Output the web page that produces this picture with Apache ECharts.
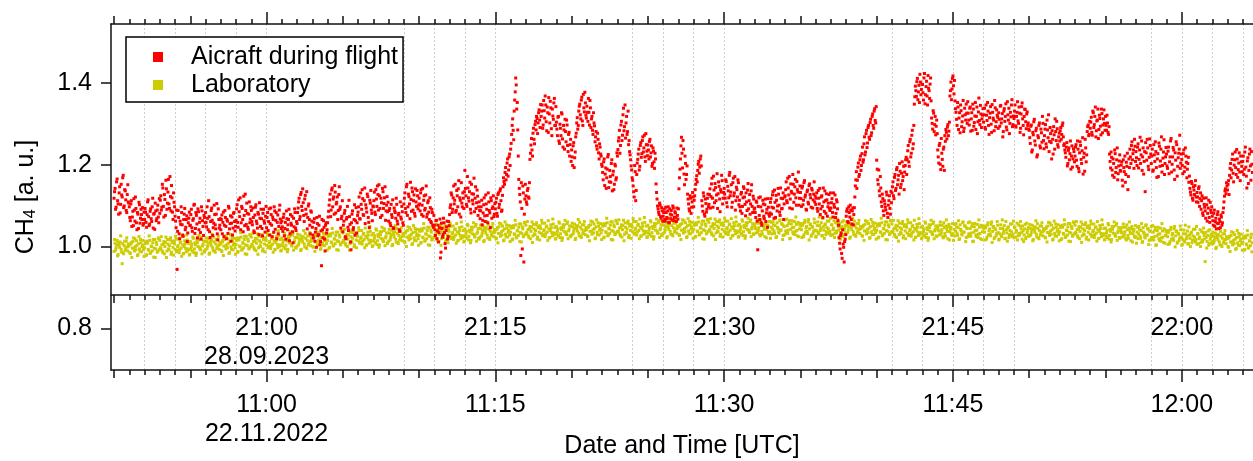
<!DOCTYPE html>
<html>

<head>
    <meta charset="utf-8">
    <title>CH4 Aircraft / Laboratory</title>
    <script src="https://cdn.jsdelivr.net/npm/echarts@6.0.0/dist/echarts.min.js"></script>
    <style>
        html, body { margin: 0; padding: 0; background: #fff; }
        .chart { width: 1253px; height: 461px; }
    </style>
</head>

<body>
    <div id="main" class="chart"></div>

    <script type="text/javascript">

        // x values are minutes after the full hour (10:00 lab run, 20:00 flight)
        var startMinute = 50;          // first sample hh:50:00
        var stepMinutes = 1 / 15;      // 4 s between values of one array
        var phaseB = 1 / 30;           // second array is shifted by 2 s
        var xMin = 49.8;
        var xMax = 124.67;

        var labelMinutes = [60, 75, 90, 105, 120];
        var gridMinutes = [52, 54, 56, 58, 60, 69, 71, 73, 75, 84, 86, 88, 90, 101, 103, 105, 107, 109, 118, 120, 122, 124];
        var yTicks = [0.8, 1.0, 1.2, 1.4];

        var flightDate = '28.09.2023';
        var labDate = '22.11.2022';

        // one row = one minute (15 values), hh:mm:00, :04, :08 ...
        var aircraftA = [
            1.118,1.142,1.096,1.165,1.104,1.131,1.082,1.152,1.121,1.174,1.099,1.136,1.088,1.127,1.109,
            1.097,1.063,1.112,1.072,1.051,1.089,1.121,1.058,1.083,1.044,1.102,1.069,1.078,1.095,1.056,
            1.066,1.084,1.047,1.109,1.073,1.055,1.092,1.061,1.118,1.079,1.042,1.087,1.068,1.101,1.058,
            1.081,1.124,1.096,1.143,1.072,1.115,1.162,1.091,1.133,1.104,1.171,1.087,1.119,1.066,1.108,
            1.074,1.046,0.944,1.088,1.031,1.062,1.097,1.053,1.025,1.079,1.041,1.066,1.012,1.058,1.084,
            1.052,1.091,1.037,1.068,1.103,1.044,1.076,1.021,1.085,1.059,1.034,1.097,1.063,1.027,1.071,
            1.083,1.048,1.069,1.112,1.036,1.061,1.094,1.027,1.057,1.078,1.043,1.105,1.016,1.066,1.052,
            1.041,1.077,1.059,1.024,1.088,1.049,1.066,1.032,1.094,1.056,1.013,1.072,1.045,1.083,1.038,
            1.064,1.102,1.047,1.085,1.119,1.058,1.093,1.036,1.076,1.128,1.054,1.081,1.042,1.109,1.067,
            1.088,1.053,1.071,1.034,1.096,1.062,1.045,1.079,1.107,1.049,1.068,1.026,1.091,1.057,1.074,
            1.046,1.083,1.061,1.028,1.094,1.052,1.072,1.035,1.087,1.064,1.019,1.077,1.049,1.101,1.058,
            1.062,1.037,1.079,1.044,1.018,1.068,1.053,1.091,1.031,1.057,1.074,1.009,1.048,1.083,1.039,
            1.056,1.094,1.118,1.073,1.132,1.088,1.107,1.061,1.125,1.079,1.043,1.099,1.066,1.031,1.084,
            1.047,1.021,1.068,1.035,0.998,1.056,1.029,1.074,1.012,0.953,1.041,1.063,1.018,1.052,1.033,
            1.058,1.086,1.114,1.073,1.138,1.097,1.121,1.149,1.082,1.108,1.066,1.127,1.091,1.045,1.074,
            1.036,1.062,1.088,1.019,1.071,1.047,1.113,1.054,0.992,1.079,1.041,1.066,1.028,1.095,1.058,
            1.084,1.121,1.067,1.103,1.139,1.078,1.112,1.056,1.094,1.128,1.071,1.046,1.106,1.089,1.063,
            1.097,1.133,1.078,1.116,1.148,1.089,1.124,1.071,1.107,1.142,1.093,1.119,1.064,1.101,1.085,
            1.062,1.093,1.051,1.078,1.114,1.044,1.087,1.069,1.103,1.055,1.081,1.037,1.072,1.098,1.058,
            1.104,1.131,1.083,1.152,1.097,1.122,1.068,1.115,1.143,1.089,1.126,1.074,1.109,1.137,1.092,
            1.118,1.087,1.139,1.101,1.074,1.124,1.093,1.148,1.079,1.112,1.066,1.095,1.058,1.083,1.047,
            1.052,1.027,1.064,1.038,1.011,1.046,0.972,1.057,1.023,1.069,1.034,0.996,1.048,1.018,1.061,
            1.078,1.102,1.126,1.091,1.148,1.113,1.084,1.137,1.097,1.161,1.119,1.072,1.106,1.131,1.093,
            1.186,1.124,1.098,1.143,1.111,1.157,1.082,1.129,1.104,1.167,1.118,1.093,1.138,1.076,1.109,
            1.068,1.097,1.053,1.082,1.119,1.061,1.104,1.076,1.131,1.088,1.046,1.112,1.093,1.124,1.079,
            1.092,1.118,1.074,1.131,1.103,1.141,1.086,1.125,1.168,1.152,1.193,1.176,1.214,1.187,1.226,
            1.238,1.274,1.312,1.261,1.358,1.412,1.336,1.285,1.164,1.127,0.978,1.093,1.148,0.962,1.116,
            1.124,1.103,1.142,1.118,1.213,1.248,1.236,1.277,1.262,1.298,1.285,1.313,1.302,1.334,1.291,
            1.318,1.346,1.297,1.332,1.368,1.305,1.341,1.279,1.324,1.355,1.288,1.336,1.311,1.362,1.296,
            1.304,1.271,1.318,1.252,1.289,1.327,1.263,1.296,1.238,1.281,1.309,1.247,1.274,1.221,1.262,
            1.236,1.198,1.254,1.217,1.268,1.302,1.287,1.331,1.348,1.312,1.365,1.296,1.339,1.377,1.321,
            1.343,1.306,1.328,1.357,1.291,1.318,1.274,1.302,1.256,1.281,1.238,1.262,1.214,1.243,1.221,
            1.196,1.163,1.214,1.177,1.142,1.189,1.225,1.158,1.171,1.203,1.136,1.184,1.152,1.197,1.168,
            1.221,1.258,1.284,1.247,1.306,1.272,1.338,1.293,1.265,1.318,1.281,1.249,1.232,1.212,1.187,
            1.162,1.134,1.198,1.112,1.176,1.213,1.238,1.196,1.254,1.227,1.268,1.241,1.219,1.276,1.233,
            1.248,1.214,1.262,1.229,1.196,1.241,1.207,1.228,1.153,1.116,1.092,1.078,1.101,1.069,1.087,
            1.074,1.091,1.062,1.083,1.068,1.097,1.058,1.079,1.088,1.065,1.094,1.071,1.082,1.061,1.076,
            1.092,1.168,1.214,1.267,1.192,1.238,1.151,1.203,1.176,1.128,1.104,1.087,1.118,1.096,1.132,
            1.097,1.124,1.152,1.173,1.186,1.208,1.194,1.221,1.112,1.086,1.123,1.074,1.105,1.091,1.128,
            1.103,1.141,1.122,1.167,1.096,1.138,1.154,1.112,1.178,1.129,1.147,1.085,1.133,1.161,1.118,
            1.142,1.118,1.159,1.097,1.136,1.174,1.124,1.151,1.108,1.167,1.131,1.089,1.145,1.121,1.156,
            1.113,1.087,1.132,1.098,1.146,1.121,1.075,1.109,1.138,1.092,1.127,1.104,1.151,1.083,1.116,
            1.094,1.071,1.108,0.992,1.119,1.066,1.097,1.052,1.113,1.074,1.102,1.061,1.091,1.117,1.079,
            1.082,1.117,1.096,1.134,1.069,1.108,1.125,1.087,1.142,1.101,1.076,1.118,1.093,1.131,1.104,
            1.124,1.158,1.107,1.143,1.171,1.116,1.135,1.092,1.152,1.128,1.164,1.101,1.139,1.182,1.118,
            1.132,1.098,1.147,1.113,1.161,1.126,1.089,1.138,1.104,1.153,1.119,1.142,1.094,1.128,1.109,
            1.103,1.131,1.086,1.118,1.142,1.092,1.124,1.071,1.109,1.136,1.081,1.114,1.097,1.127,1.088,
            1.094,1.117,1.072,1.103,1.126,1.081,1.109,1.063,1.021,0.994,1.033,0.971,1.006,0.962,1.018,
            1.074,1.092,1.058,1.083,1.101,1.066,1.087,1.053,1.095,1.148,1.183,1.162,1.204,1.176,1.221,
            1.198,1.243,1.212,1.268,1.231,1.284,1.253,1.296,1.262,1.311,1.278,1.324,1.289,1.337,1.302,
            1.211,1.163,1.187,1.124,1.143,1.098,1.117,1.076,1.104,1.089,1.126,1.071,1.112,1.093,1.135,
            1.131,1.158,1.117,1.176,1.142,1.193,1.163,1.128,1.184,1.152,1.207,1.171,1.139,1.198,1.218,
            1.213,1.247,1.196,1.262,1.228,1.284,1.251,1.348,1.392,1.367,1.411,1.378,1.352,1.402,1.384,
            1.396,1.358,1.423,1.371,1.404,1.346,1.387,1.362,1.412,1.314,1.287,1.326,1.298,1.273,1.309,
            1.236,1.204,1.252,1.188,1.228,1.196,1.243,1.271,1.286,1.263,1.298,1.282,1.368,1.402,1.385,
            1.417,1.373,1.356,1.328,1.296,1.341,1.314,1.278,1.332,1.305,1.357,1.289,1.322,1.348,1.301,
            1.326,1.297,1.341,1.312,1.284,1.336,1.303,1.352,1.318,1.276,1.329,1.308,1.345,1.291,1.321,
            1.304,1.338,1.287,1.321,1.352,1.296,1.315,1.342,1.279,1.328,1.309,1.357,1.293,1.334,1.316,
            1.327,1.294,1.345,1.312,1.268,1.331,1.306,1.349,1.285,1.322,1.338,1.301,1.317,1.359,1.298,
            1.313,1.346,1.292,1.328,1.307,1.341,1.279,1.324,1.351,1.296,1.318,1.335,1.288,1.329,1.302,
            1.284,1.252,1.297,1.236,1.273,1.311,1.248,1.289,1.224,1.266,1.302,1.241,1.278,1.318,1.259,
            1.271,1.298,1.243,1.285,1.322,1.257,1.276,1.214,1.262,1.293,1.238,1.281,1.306,1.249,1.268,
            1.258,1.291,1.274,1.302,1.247,1.236,1.218,1.254,1.203,1.241,1.227,1.189,1.246,1.214,1.232,
            1.221,1.249,1.196,1.238,1.183,1.256,1.213,1.234,1.177,1.228,1.262,1.207,1.281,1.297,1.274,
            1.289,1.316,1.272,1.327,1.298,1.341,1.283,1.309,1.264,1.321,1.294,1.336,1.278,1.312,1.301,
            1.318,1.284,1.302,1.274,1.226,1.192,1.218,1.174,1.203,1.236,1.181,1.212,1.163,1.197,1.224,
            1.184,1.207,1.148,1.193,1.221,1.176,1.196,1.139,1.214,1.238,1.203,1.256,1.227,1.191,1.245,
            1.232,1.198,1.251,1.213,1.267,1.224,1.186,1.241,1.208,1.134,1.229,1.262,1.196,1.218,1.247,
            1.203,1.238,1.187,1.224,1.256,1.193,1.214,1.171,1.245,1.209,1.268,1.198,1.231,1.176,1.219,
            1.226,1.191,1.243,1.207,1.258,1.182,1.219,1.236,1.164,1.211,1.249,1.196,1.228,1.272,1.204,
            1.213,1.178,1.236,1.194,1.221,1.168,1.203,1.157,1.142,1.126,1.154,1.113,1.138,1.149,1.121,
            1.132,1.108,1.146,1.117,1.091,1.124,1.076,1.103,1.087,1.119,1.062,1.094,1.071,1.108,1.083,
            1.074,1.052,1.089,1.061,1.043,1.078,1.056,1.067,1.046,1.072,1.058,1.094,1.123,1.141,1.156,
            1.138,1.161,1.174,1.203,1.187,1.226,1.158,1.212,1.193,1.237,1.169,1.204,1.182,1.221,1.196,
            1.208,1.176,1.231,1.194,1.143,1.217,1.186,1.238,1.162,1.201
        ];

        // hh:mm:02, :06, :10 ...
        var aircraftB = [
            1.134,1.091,1.158,1.112,1.079,1.146,1.103,1.126,1.168,1.095,1.139,1.114,1.083,1.151,1.106,
            1.071,1.104,1.049,1.086,1.117,1.062,1.093,1.041,1.079,1.108,1.057,1.091,1.066,1.052,1.084,
            1.093,1.059,1.078,1.114,1.051,1.086,1.068,1.097,1.045,1.081,1.106,1.063,1.089,1.072,1.117,
            1.113,1.089,1.152,1.098,1.127,1.076,1.141,1.106,1.164,1.093,1.122,1.149,1.084,1.131,1.097,
            1.062,1.089,1.037,1.071,1.019,1.054,1.083,1.028,1.066,1.093,1.047,1.075,1.033,1.069,1.051,
            1.078,1.046,1.064,1.101,1.032,1.083,1.055,1.092,1.041,1.069,1.018,1.087,1.049,1.076,1.058,
            1.059,1.097,1.041,1.073,1.022,1.088,1.064,1.046,1.101,1.053,1.079,1.031,1.092,1.045,1.068,
            1.066,1.031,1.084,1.052,1.071,1.019,1.062,1.098,1.043,1.075,1.057,1.028,1.081,1.061,1.049,
            1.092,1.059,1.114,1.073,1.041,1.098,1.066,1.123,1.051,1.088,1.106,1.047,1.079,1.058,1.097,
            1.061,1.094,1.038,1.077,1.102,1.056,1.083,1.029,1.069,1.091,1.044,1.081,1.063,1.035,1.098,
            1.071,1.039,1.092,1.056,1.078,1.024,1.066,1.097,1.042,1.083,1.059,1.031,1.089,1.067,1.044,
            1.048,1.071,1.026,1.059,1.087,1.041,1.066,1.014,1.078,1.052,1.036,1.069,1.092,1.045,1.061,
            1.083,1.109,1.066,1.127,1.098,1.141,1.076,1.116,1.091,1.134,1.071,1.104,1.052,1.087,1.062,
            1.028,1.059,1.013,1.044,1.071,1.026,1.052,1.004,1.038,1.066,1.021,1.047,0.989,1.058,1.041,
            1.072,1.101,1.128,1.089,1.143,1.116,1.079,1.133,1.104,1.121,1.088,1.146,1.097,1.068,1.112,
            1.052,1.081,1.024,1.067,1.098,1.039,1.073,1.011,1.058,1.087,1.046,1.102,1.063,1.033,1.076,
            1.097,1.068,1.131,1.091,1.117,1.076,1.143,1.102,1.084,1.122,1.059,1.113,1.137,1.081,1.099,
            1.112,1.084,1.139,1.098,1.127,1.151,1.093,1.118,1.076,1.134,1.105,1.146,1.087,1.122,1.108,
            1.088,1.057,1.103,1.071,1.046,1.094,1.083,1.118,1.062,1.077,1.041,1.109,1.067,1.085,1.052,
            1.118,1.093,1.146,1.076,1.128,1.104,1.157,1.086,1.134,1.112,1.081,1.141,1.098,1.124,1.101,
            1.104,1.131,1.078,1.142,1.113,1.089,1.126,1.072,1.107,1.084,1.119,1.061,1.091,1.052,1.076,
            1.041,1.063,1.019,1.052,1.034,1.067,0.986,1.044,1.029,1.058,1.007,1.039,1.062,1.024,1.051,
            1.095,1.131,1.083,1.119,1.104,1.152,1.088,1.124,1.141,1.079,1.113,1.156,1.097,1.118,1.134,
            1.142,1.103,1.171,1.119,1.134,1.091,1.152,1.113,1.128,1.085,1.146,1.107,1.123,1.097,1.088,
            1.087,1.113,1.064,1.102,1.075,1.126,1.091,1.058,1.109,1.082,1.119,1.069,1.097,1.073,1.105,
            1.108,1.081,1.127,1.095,1.136,1.112,1.089,1.146,1.159,1.181,1.163,1.204,1.172,1.219,1.198,
            1.252,1.296,1.284,1.331,1.378,1.395,1.352,1.221,1.142,1.109,1.156,0.994,1.131,1.079,1.152,
            1.109,1.137,1.121,1.156,1.228,1.264,1.221,1.289,1.251,1.306,1.318,1.276,1.327,1.309,1.347,
            1.331,1.289,1.357,1.314,1.346,1.283,1.327,1.364,1.302,1.339,1.271,1.319,1.351,1.296,1.342,
            1.287,1.316,1.258,1.299,1.271,1.324,1.243,1.285,1.311,1.256,1.297,1.232,1.279,1.249,1.208,
            1.219,1.246,1.193,1.231,1.277,1.315,1.296,1.343,1.322,1.358,1.307,1.372,1.329,1.351,1.314,
            1.328,1.362,1.297,1.339,1.312,1.284,1.327,1.295,1.268,1.246,1.277,1.229,1.251,1.226,1.201,
            1.181,1.207,1.149,1.192,1.168,1.219,1.144,1.186,1.157,1.212,1.175,1.139,1.201,1.163,1.229,
            1.237,1.266,1.228,1.297,1.259,1.322,1.283,1.346,1.302,1.274,1.331,1.259,1.224,1.197,1.168,
            1.148,1.121,1.183,1.137,1.204,1.226,1.187,1.247,1.218,1.259,1.231,1.272,1.208,1.249,1.222,
            1.236,1.257,1.219,1.246,1.203,1.233,1.191,1.214,1.132,1.099,1.084,1.106,1.073,1.095,1.062,
            1.083,1.066,1.096,1.071,1.087,1.059,1.092,1.068,1.077,1.099,1.063,1.085,1.072,1.094,1.067,
            1.141,1.189,1.246,1.228,1.259,1.177,1.221,1.164,1.197,1.116,1.092,1.124,1.081,1.109,1.121,
            1.113,1.139,1.164,1.158,1.201,1.179,1.214,1.197,1.099,1.131,1.079,1.116,1.084,1.118,1.097,
            1.127,1.094,1.153,1.118,1.172,1.107,1.144,1.126,1.093,1.158,1.116,1.139,1.174,1.104,1.132,
            1.128,1.163,1.107,1.147,1.119,1.181,1.133,1.096,1.156,1.124,1.171,1.112,1.139,1.163,1.102,
            1.097,1.128,1.081,1.119,1.142,1.103,1.131,1.088,1.154,1.112,1.079,1.136,1.098,1.123,1.091,
            1.083,1.111,1.062,1.098,1.076,1.121,1.058,1.087,1.104,1.068,1.116,1.082,1.047,1.096,1.074,
            1.108,1.079,1.126,1.094,1.138,1.071,1.113,1.099,1.128,1.084,1.143,1.092,1.117,1.066,1.121,
            1.139,1.112,1.167,1.126,1.094,1.153,1.131,1.176,1.108,1.146,1.119,1.159,1.133,1.101,1.148,
            1.117,1.143,1.102,1.156,1.121,1.091,1.134,1.108,1.149,1.127,1.096,1.138,1.114,1.158,1.123,
            1.118,1.093,1.137,1.104,1.078,1.121,1.098,1.143,1.086,1.112,1.129,1.074,1.106,1.093,1.131,
            1.107,1.083,1.131,1.096,1.071,1.114,1.092,1.052,1.008,1.027,0.983,1.041,0.998,1.012,1.029,
            1.086,1.061,1.097,1.072,1.089,1.055,1.094,1.078,1.121,1.163,1.142,1.194,1.171,1.212,1.186,
            1.227,1.206,1.251,1.224,1.276,1.242,1.291,1.267,1.303,1.271,1.318,1.296,1.331,1.308,1.342,
            1.189,1.152,1.136,1.171,1.109,1.128,1.087,1.112,1.096,1.133,1.081,1.101,1.124,1.079,1.107,
            1.146,1.124,1.169,1.137,1.188,1.151,1.174,1.203,1.144,1.179,1.161,1.196,1.182,1.212,1.176,
            1.234,1.207,1.256,1.219,1.272,1.239,1.296,1.366,1.381,1.403,1.359,1.394,1.421,1.371,1.397,
            1.376,1.412,1.349,1.391,1.368,1.418,1.381,1.397,1.356,1.301,1.332,1.281,1.318,1.294,1.276,
            1.219,1.247,1.201,1.264,1.213,1.238,1.186,1.257,1.279,1.292,1.271,1.304,1.381,1.359,1.411,
            1.393,1.406,1.337,1.311,1.352,1.286,1.327,1.346,1.293,1.319,1.281,1.338,1.309,1.326,1.354,
            1.309,1.338,1.282,1.327,1.348,1.294,1.319,1.286,1.341,1.305,1.363,1.298,1.324,1.312,1.337,
            1.322,1.291,1.346,1.308,1.331,1.274,1.326,1.299,1.347,1.314,1.283,1.339,1.305,1.321,1.289,
            1.311,1.343,1.302,1.325,1.281,1.337,1.318,1.292,1.354,1.309,1.276,1.328,1.346,1.293,1.319,
            1.331,1.295,1.318,1.354,1.301,1.326,1.289,1.342,1.312,1.273,1.336,1.305,1.324,1.296,1.287,
            1.266,1.294,1.231,1.279,1.305,1.258,1.283,1.219,1.271,1.296,1.246,1.287,1.255,1.301,1.239,
            1.287,1.251,1.309,1.266,1.232,1.291,1.254,1.283,1.226,1.273,1.312,1.259,1.288,1.243,1.277,
            1.283,1.262,1.296,1.268,1.251,1.229,1.243,1.197,1.235,1.212,1.258,1.221,1.194,1.239,1.207,
            1.243,1.211,1.258,1.191,1.229,1.247,1.203,1.266,1.218,1.184,1.241,1.224,1.293,1.271,1.306,
            1.304,1.279,1.331,1.291,1.318,1.268,1.307,1.336,1.286,1.313,1.273,1.325,1.297,1.334,1.284,
            1.296,1.321,1.279,1.293,1.208,1.231,1.187,1.214,1.169,1.227,1.193,1.241,1.178,1.209,1.186,
            1.199,1.162,1.212,1.183,1.157,1.206,1.228,1.171,1.193,1.219,1.247,1.212,1.236,1.262,1.208,
            1.217,1.243,1.192,1.236,1.203,1.258,1.219,1.177,1.232,1.254,1.211,1.241,1.188,1.263,1.226,
            1.221,1.184,1.249,1.208,1.232,1.169,1.227,1.253,1.196,1.238,1.182,1.216,1.261,1.203,1.242,
            1.197,1.233,1.178,1.219,1.264,1.201,1.242,1.187,1.229,1.256,1.172,1.217,1.238,1.191,1.226,
            1.198,1.227,1.183,1.241,1.206,1.189,1.218,1.172,1.133,1.159,1.118,1.146,1.127,1.161,1.109,
            1.121,1.142,1.098,1.131,1.112,1.082,1.118,1.096,1.069,1.102,1.081,1.113,1.059,1.089,1.097,
            1.063,1.081,1.049,1.069,1.057,1.085,1.044,1.061,1.077,1.052,1.083,1.109,1.136,1.129,1.148,
            1.152,1.127,1.191,1.168,1.213,1.179,1.199,1.231,1.176,1.214,1.188,1.229,1.161,1.207,1.183,
            1.221,1.189,1.243,1.172,1.209,1.154,1.226,1.197,1.232,1.181
        ];

        var labA = [
            0.988,1.008,0.997,1.015,0.980,1.004,1.011,0.993,0.958,0.985,1.002,0.991,1.013,0.999,1.006,
            1.005,0.983,1.010,0.996,1.021,0.989,1.000,1.014,0.978,1.007,0.994,1.017,0.987,1.003,0.992,
            0.997,1.011,0.980,1.008,0.991,1.015,0.985,1.000,1.009,0.974,1.017,0.994,1.005,0.988,1.019,
            1.015,0.995,1.004,0.985,1.012,1.000,1.023,0.989,1.006,0.992,1.016,0.981,1.009,0.998,1.013,
            0.993,1.018,0.990,1.002,0.985,1.009,0.996,1.024,0.982,1.000,1.007,0.987,1.016,0.994,0.979,
            1.012,1.000,0.989,1.020,0.994,1.004,0.984,1.009,1.016,0.998,0.992,1.023,1.001,1.013,0.987,
            0.992,1.012,1.001,1.019,0.984,1.008,1.015,0.997,1.023,0.989,1.006,0.995,1.017,1.003,1.010,
            1.010,0.988,1.015,1.001,1.026,0.994,1.005,1.019,0.983,1.012,0.999,1.022,0.992,1.008,0.997,
            1.005,1.019,0.988,1.016,0.999,1.023,0.993,1.008,1.017,0.982,1.025,1.002,1.013,0.996,1.027,
            1.023,1.003,1.012,0.993,1.020,1.008,1.031,0.997,1.014,1.000,1.024,0.989,1.017,1.006,1.021,
            1.003,1.028,1.000,1.012,0.995,1.019,1.006,1.034,0.992,1.010,1.017,0.997,1.026,1.004,0.989,
            1.021,1.009,0.998,1.029,1.003,1.013,0.993,1.018,1.025,1.007,1.001,1.032,1.010,1.022,0.996,
            1.001,1.021,1.010,1.028,0.993,1.017,1.024,1.006,1.032,0.998,1.015,1.004,1.026,1.012,1.019,
            1.020,0.998,1.025,1.011,1.036,1.004,1.015,1.029,0.993,1.022,1.009,1.032,1.002,1.018,1.007,
            1.015,1.029,0.998,1.026,1.009,1.033,1.003,1.018,1.027,0.992,1.035,1.012,1.023,1.006,1.037,
            1.033,1.013,1.022,1.003,1.030,1.018,1.041,1.007,1.024,1.010,1.034,0.999,1.027,1.016,1.031,
            1.014,1.039,1.011,1.023,1.006,1.030,1.017,1.045,1.003,1.021,1.028,1.008,1.037,1.015,1.000,
            1.032,1.020,1.009,1.040,1.014,1.024,1.004,1.029,1.036,1.018,1.012,1.043,1.021,1.033,1.007,
            1.013,1.033,1.022,1.040,1.005,1.029,1.036,1.018,1.044,1.010,1.027,1.016,1.038,1.024,1.031,
            1.032,1.010,1.037,1.023,1.048,1.016,1.027,1.041,1.005,1.034,1.021,1.044,1.014,1.030,1.019,
            1.027,1.041,1.010,1.038,1.021,1.045,1.015,1.030,1.039,1.004,1.047,1.024,1.035,1.018,1.049,
            1.045,1.025,1.034,1.015,1.042,1.030,1.053,1.019,1.036,1.022,1.046,1.011,1.039,1.028,1.043,
            1.025,1.050,1.022,1.034,1.017,1.041,1.028,1.056,1.014,1.032,1.039,1.019,1.048,1.026,1.011,
            1.043,1.031,1.020,1.051,1.025,1.035,1.015,1.040,1.047,1.029,1.023,1.054,1.032,1.044,1.018,
            1.023,1.043,1.032,1.050,1.015,1.039,1.046,1.028,1.054,1.020,1.037,1.026,1.048,1.034,1.041,
            1.041,1.019,1.046,1.032,1.057,1.025,1.036,1.050,1.014,1.043,1.030,1.053,1.023,1.039,1.028,
            1.035,1.049,1.018,1.046,1.029,1.053,1.023,1.038,1.047,1.012,1.055,1.032,1.043,1.026,1.057,
            1.052,1.032,1.041,1.022,1.049,1.037,1.060,1.026,1.043,1.029,1.053,1.018,1.046,1.035,1.050,
            1.032,1.057,1.029,1.041,1.024,1.048,1.035,1.063,1.021,1.039,1.046,1.026,1.055,1.033,1.018,
            1.049,1.037,1.026,1.057,1.031,1.041,1.021,1.046,1.053,1.035,1.029,1.060,1.038,1.050,1.024,
            1.028,1.048,1.037,1.055,1.020,1.044,1.051,1.033,1.059,1.025,1.042,1.031,1.053,1.039,1.046,
            1.046,1.024,1.051,1.037,1.062,1.030,1.041,1.055,1.019,1.048,1.035,1.058,1.028,1.044,1.033,
            1.040,1.054,1.023,1.051,1.034,1.058,1.028,1.043,1.052,1.017,1.060,1.037,1.048,1.031,1.062,
            1.056,1.036,1.045,1.026,1.053,1.041,1.064,1.030,1.047,1.033,1.057,1.022,1.050,1.039,1.054,
            1.036,1.061,1.033,1.045,1.028,1.052,1.039,1.067,1.025,1.043,1.050,1.030,1.059,1.037,1.022,
            1.052,1.040,1.029,1.060,1.034,1.044,1.024,1.049,1.056,1.038,1.032,1.063,1.041,1.053,1.027,
            1.032,1.052,1.041,1.059,1.024,1.048,1.055,1.037,1.063,1.029,1.046,1.035,1.057,1.043,1.050,
            1.049,1.027,1.054,1.040,1.065,1.033,1.044,1.058,1.022,1.051,1.038,1.061,1.031,1.047,1.036,
            1.042,1.056,1.025,1.053,1.036,1.060,1.030,1.045,1.054,1.019,1.062,1.039,1.050,1.033,1.064,
            1.059,1.039,1.048,1.029,1.056,1.044,1.067,1.033,1.050,1.036,1.060,1.025,1.053,1.042,1.057,
            1.037,1.062,1.034,1.046,1.029,1.053,1.040,1.068,1.026,1.044,1.051,1.031,1.060,1.038,1.023,
            1.054,1.042,1.031,1.062,1.036,1.046,1.026,1.051,1.058,1.040,1.034,1.065,1.043,1.055,1.029,
            1.050,1.043,1.057,1.035,1.046,1.029,1.063,1.037,1.055,1.048,1.024,1.059,1.041,1.052,1.032,
            1.036,1.047,1.031,1.061,1.038,1.051,1.022,1.058,1.044,1.033,1.065,1.040,1.054,1.027,1.049,
            1.065,1.034,1.051,1.040,1.063,1.020,1.055,1.046,1.031,1.061,1.037,1.054,1.026,1.057,1.043,
            1.056,1.041,1.052,1.024,1.059,1.035,1.049,1.032,1.066,1.043,1.055,1.028,1.047,1.038,1.058,
            1.023,1.038,1.060,1.031,1.051,1.044,1.026,1.068,1.040,1.053,1.029,1.046,1.034,1.062,1.037,
            1.027,1.053,1.041,1.063,1.032,1.038,1.056,1.049,1.024,1.044,1.034,1.060,1.029,1.040,1.052,
            1.031,1.051,1.040,1.058,1.023,1.047,1.054,1.036,1.062,1.028,1.045,1.034,1.056,1.042,1.049,
            1.047,1.025,1.052,1.038,1.063,1.031,1.042,1.056,1.020,1.049,1.036,1.059,1.029,1.045,1.034,
            1.040,1.054,1.023,1.051,1.034,1.058,1.028,1.043,1.052,1.017,1.060,1.037,1.048,1.031,1.062,
            1.055,1.035,1.044,1.025,1.052,1.040,1.063,1.029,1.046,1.032,1.056,1.021,1.049,1.038,1.053,
            1.033,1.058,1.030,1.042,1.025,1.049,1.036,1.064,1.022,1.040,1.047,1.027,1.056,1.034,1.019,
            1.049,1.037,1.026,1.057,1.031,1.041,1.021,1.046,1.053,1.035,1.029,1.060,1.038,1.050,1.024,
            1.045,1.038,1.052,1.030,1.041,1.024,1.058,1.032,1.050,1.043,1.019,1.054,1.036,1.047,1.027,
            1.031,1.042,1.026,1.056,1.033,1.046,1.017,1.053,1.039,1.028,1.060,1.035,1.049,1.022,1.044,
            1.058,1.027,1.044,1.033,1.056,1.013,1.048,1.039,1.024,1.054,1.030,1.047,1.019,1.050,1.036,
            1.050,1.035,1.046,1.018,1.053,1.029,1.043,1.026,1.060,1.037,1.049,1.022,1.041,1.032,1.052,
            1.016,1.031,1.053,1.024,1.044,1.037,1.019,1.061,1.033,1.046,1.022,1.039,1.027,1.055,1.030,
            1.021,1.047,1.035,1.057,1.026,1.032,1.050,1.043,1.018,1.038,1.028,1.054,1.023,1.034,1.046,
            1.025,1.045,1.034,1.052,1.017,1.041,1.048,1.030,1.056,1.022,1.039,1.028,1.050,1.036,1.043,
            1.043,1.021,1.048,1.034,1.059,1.027,1.038,1.052,1.016,1.045,1.032,1.055,1.025,1.041,1.030,
            1.036,1.050,1.019,1.047,1.030,1.054,1.024,1.039,1.048,1.013,1.056,1.033,1.044,1.027,1.058,
            1.052,1.032,1.041,1.022,1.049,1.037,1.060,1.026,1.043,1.029,1.053,1.018,1.046,1.035,1.050,
            1.030,1.055,1.027,1.039,1.022,1.046,1.033,1.061,1.019,1.037,1.044,1.024,1.053,1.031,1.016,
            1.045,1.033,1.022,1.053,1.027,1.037,1.017,1.042,1.049,1.031,1.025,1.056,1.034,1.046,1.020,
            1.040,1.033,1.047,1.025,1.036,1.019,1.053,1.027,1.045,1.038,1.014,1.049,1.031,1.042,1.022,
            1.024,1.035,1.019,1.049,1.026,1.039,1.010,1.046,1.032,1.021,1.053,1.028,1.042,1.015,1.037,
            1.049,1.018,1.035,1.024,1.047,1.004,1.039,1.030,1.015,1.045,1.021,1.038,1.010,1.041,1.027,
            1.039,1.024,1.035,1.007,1.042,1.018,1.032,1.015,1.049,1.026,1.038,1.011,1.030,1.021,1.041,
            1.003,1.018,1.040,1.011,1.031,1.024,1.006,1.048,1.020,1.033,1.009,1.026,1.014,1.042,1.017,
            1.005,1.031,1.019,1.041,1.010,1.016,1.034,1.027,0.963,1.022,1.012,1.038,1.007,1.018,1.030,
            1.006,1.026,1.015,1.033,0.998,1.022,1.029,1.011,1.037,1.003,1.020,1.009,1.031,1.017,1.024,
            1.020,0.998,1.025,1.011,1.036,1.004,1.015,1.029,0.993,1.022,1.009,1.032,1.002,1.018,1.007,
            1.010,1.024,0.993,1.021,1.004,1.028,0.998,1.013,1.022,0.987
        ];

        var labB = [
            1.017,0.991,1.004,0.977,1.010,0.998,1.026,0.986,1.007,0.982,1.013,0.995,1.021,0.989,1.001,
            0.985,1.006,0.973,1.012,0.996,1.019,0.992,1.003,0.980,1.024,0.988,1.009,0.999,1.015,0.976,
            1.007,0.978,1.013,0.993,1.026,0.983,1.001,0.989,1.017,0.996,0.973,1.010,0.986,1.021,0.992,
            0.997,1.024,0.989,1.006,0.982,1.010,0.973,1.017,0.994,1.002,1.021,0.986,1.013,0.979,1.007,
            1.025,0.987,0.999,1.018,0.992,1.011,0.976,1.004,0.983,1.014,0.995,1.028,0.990,1.007,0.981,
            0.993,1.006,1.023,0.985,1.009,0.978,1.016,1.000,1.027,0.994,1.019,0.982,1.005,0.989,1.013,
            1.021,0.995,1.008,0.981,1.014,1.002,1.030,0.990,1.011,0.986,1.017,0.999,1.025,0.993,1.005,
            0.990,1.011,0.978,1.017,1.001,1.024,0.997,1.008,0.985,1.029,0.993,1.014,1.004,1.020,0.981,
            1.015,0.986,1.021,1.001,1.034,0.991,1.009,0.997,1.025,1.004,0.981,1.018,0.994,1.029,1.000,
            1.005,1.032,0.997,1.014,0.990,1.018,0.981,1.025,1.002,1.010,1.029,0.994,1.021,0.987,1.015,
            1.035,0.997,1.009,1.028,1.002,1.021,0.986,1.014,0.993,1.024,1.005,1.038,1.000,1.017,0.991,
            1.002,1.015,1.032,0.994,1.018,0.987,1.025,1.009,1.036,1.003,1.028,0.991,1.014,0.998,1.022,
            1.030,1.004,1.017,0.990,1.023,1.011,1.039,0.999,1.020,0.995,1.026,1.008,1.034,1.002,1.014,
            1.000,1.021,0.988,1.027,1.011,1.034,1.007,1.018,0.995,1.039,1.003,1.024,1.014,1.030,0.991,
            1.025,0.996,1.031,1.011,1.044,1.001,1.019,1.007,1.035,1.014,0.991,1.028,1.004,1.039,1.010,
            1.015,1.042,1.007,1.024,1.000,1.028,0.991,1.035,1.012,1.020,1.039,1.004,1.031,0.997,1.025,
            1.046,1.008,1.020,1.039,1.013,1.032,0.997,1.025,1.004,1.035,1.016,1.049,1.011,1.028,1.002,
            1.013,1.026,1.043,1.005,1.029,0.998,1.036,1.020,1.047,1.014,1.039,1.002,1.025,1.009,1.033,
            1.042,1.016,1.029,1.002,1.035,1.023,1.051,1.011,1.032,1.007,1.038,1.020,1.046,1.014,1.026,
            1.012,1.033,1.000,1.039,1.023,1.046,1.019,1.030,1.007,1.051,1.015,1.036,1.026,1.042,1.003,
            1.037,1.008,1.043,1.023,1.056,1.013,1.031,1.019,1.047,1.026,1.003,1.040,1.016,1.051,1.022,
            1.027,1.054,1.019,1.036,1.012,1.040,1.003,1.047,1.024,1.032,1.051,1.016,1.043,1.009,1.037,
            1.057,1.019,1.031,1.050,1.024,1.043,1.008,1.036,1.015,1.046,1.027,1.060,1.022,1.039,1.013,
            1.024,1.037,1.054,1.016,1.040,1.009,1.047,1.031,1.058,1.025,1.050,1.013,1.036,1.020,1.044,
            1.052,1.026,1.039,1.012,1.045,1.033,1.061,1.021,1.042,1.017,1.048,1.030,1.056,1.024,1.036,
            1.021,1.042,1.009,1.048,1.032,1.055,1.028,1.039,1.016,1.060,1.024,1.045,1.035,1.051,1.012,
            1.045,1.016,1.051,1.031,1.064,1.021,1.039,1.027,1.055,1.034,1.011,1.048,1.024,1.059,1.030,
            1.034,1.061,1.026,1.043,1.019,1.047,1.010,1.054,1.031,1.039,1.058,1.023,1.050,1.016,1.044,
            1.064,1.026,1.038,1.057,1.031,1.050,1.015,1.043,1.022,1.053,1.034,1.067,1.029,1.046,1.020,
            1.030,1.043,1.060,1.022,1.046,1.015,1.053,1.037,1.064,1.031,1.056,1.019,1.042,1.026,1.050,
            1.057,1.031,1.044,1.017,1.050,1.038,1.066,1.026,1.047,1.022,1.053,1.035,1.061,1.029,1.041,
            1.026,1.047,1.014,1.053,1.037,1.060,1.033,1.044,1.021,1.065,1.029,1.050,1.040,1.056,1.017,
            1.050,1.021,1.056,1.036,1.069,1.026,1.044,1.032,1.060,1.039,1.016,1.053,1.029,1.064,1.035,
            1.038,1.065,1.030,1.047,1.023,1.051,1.014,1.058,1.035,1.043,1.062,1.027,1.054,1.020,1.048,
            1.068,1.030,1.042,1.061,1.035,1.054,1.019,1.047,1.026,1.057,1.038,1.071,1.033,1.050,1.024,
            1.033,1.046,1.063,1.025,1.049,1.018,1.056,1.040,1.067,1.034,1.059,1.022,1.045,1.029,1.053,
            1.061,1.035,1.048,1.021,1.054,1.042,1.070,1.030,1.051,1.026,1.057,1.039,1.065,1.033,1.045,
            1.029,1.050,1.017,1.056,1.040,1.063,1.036,1.047,1.024,1.068,1.032,1.053,1.043,1.059,1.020,
            1.052,1.023,1.058,1.038,1.071,1.028,1.046,1.034,1.062,1.041,1.018,1.055,1.031,1.066,1.037,
            1.041,1.068,1.033,1.050,1.026,1.054,1.017,1.061,1.038,1.046,1.065,1.030,1.057,1.023,1.051,
            1.069,1.031,1.043,1.062,1.036,1.055,1.020,1.048,1.027,1.058,1.039,1.072,1.034,1.051,1.025,
            1.035,1.048,1.065,1.027,1.051,1.020,1.058,1.042,1.069,1.036,1.061,1.024,1.047,1.031,1.055,
            1.045,1.033,1.065,1.039,1.057,1.026,1.051,1.030,1.070,1.042,1.054,1.021,1.048,1.035,1.061,
            1.020,1.059,1.043,1.053,1.032,1.068,1.024,1.047,1.036,1.063,1.040,1.056,1.017,1.050,1.029,
            1.038,1.067,1.032,1.056,1.019,1.042,1.063,1.035,1.047,1.029,1.072,1.039,1.059,1.024,1.053,
            1.050,1.022,1.056,1.029,1.064,1.045,1.037,1.060,1.016,1.053,1.025,1.049,1.032,1.067,1.040,
            1.025,1.051,1.034,1.072,1.039,1.058,1.027,1.048,1.020,1.055,1.036,1.062,1.043,1.031,1.069,
            1.053,1.029,1.045,1.022,1.059,1.034,1.067,1.040,1.056,1.018,1.049,1.025,1.063,1.046,1.033,
            1.060,1.034,1.047,1.020,1.053,1.041,1.069,1.029,1.050,1.025,1.056,1.038,1.064,1.032,1.044,
            1.027,1.048,1.015,1.054,1.038,1.061,1.034,1.045,1.022,1.066,1.030,1.051,1.041,1.057,1.018,
            1.050,1.021,1.056,1.036,1.069,1.026,1.044,1.032,1.060,1.039,1.016,1.053,1.029,1.064,1.035,
            1.037,1.064,1.029,1.046,1.022,1.050,1.013,1.057,1.034,1.042,1.061,1.026,1.053,1.019,1.047,
            1.065,1.027,1.039,1.058,1.032,1.051,1.016,1.044,1.023,1.054,1.035,1.068,1.030,1.047,1.021,
            1.030,1.043,1.060,1.022,1.046,1.015,1.053,1.037,1.064,1.031,1.056,1.019,1.042,1.026,1.050,
            1.040,1.028,1.060,1.034,1.052,1.021,1.046,1.025,1.065,1.037,1.049,1.016,1.043,1.030,1.056,
            1.015,1.054,1.038,1.048,1.027,1.063,1.019,1.042,1.031,1.058,1.035,1.051,1.012,1.045,1.024,
            1.031,1.060,1.025,1.049,1.012,1.035,1.056,1.028,1.040,1.022,1.065,1.032,1.052,1.017,1.046,
            1.044,1.016,1.050,1.023,1.058,1.039,1.031,1.054,1.010,1.047,1.019,1.043,1.026,1.061,1.034,
            1.018,1.044,1.027,1.065,1.032,1.051,1.020,1.041,1.013,1.048,1.029,1.055,1.036,1.024,1.062,
            1.047,1.023,1.039,1.016,1.053,1.028,1.061,1.034,1.050,1.012,1.043,1.019,1.057,1.040,1.027,
            1.054,1.028,1.041,1.014,1.047,1.035,1.063,1.023,1.044,1.019,1.050,1.032,1.058,1.026,1.038,
            1.023,1.044,1.011,1.050,1.034,1.057,1.030,1.041,1.018,1.062,1.026,1.047,1.037,1.053,1.014,
            1.046,1.017,1.052,1.032,1.065,1.022,1.040,1.028,1.056,1.035,1.012,1.049,1.025,1.060,1.031,
            1.034,1.061,1.026,1.043,1.019,1.047,1.010,1.054,1.031,1.039,1.058,1.023,1.050,1.016,1.044,
            1.062,1.024,1.036,1.055,1.029,1.048,1.013,1.041,1.020,1.051,1.032,1.065,1.027,1.044,1.018,
            1.026,1.039,1.056,1.018,1.042,1.011,1.049,1.033,1.060,1.027,1.052,1.015,1.038,1.022,1.046,
            1.035,1.023,1.055,1.029,1.047,1.016,1.041,1.020,1.060,1.032,1.044,1.011,1.038,1.025,1.051,
            1.008,1.047,1.031,1.041,1.020,1.056,1.012,1.035,1.024,1.051,1.028,1.044,1.005,1.038,1.017,
            1.022,1.051,1.016,1.040,1.003,1.026,1.047,1.019,1.031,1.013,1.056,1.023,1.043,1.008,1.037,
            1.033,1.005,1.039,1.012,1.047,1.028,1.020,1.043,0.999,1.036,1.008,1.032,1.015,1.050,1.023,
            1.005,1.031,1.014,1.052,1.019,1.038,1.007,1.028,1.000,1.035,1.016,1.042,1.023,1.011,1.049,
            1.031,1.007,1.023,1.000,1.037,1.012,1.045,1.018,1.034,0.996,1.027,1.003,1.041,1.024,1.011,
            1.035,1.009,1.022,0.995,1.028,1.016,1.044,1.004,1.025,1.000,1.031,1.013,1.039,1.007,1.019,
            1.000,1.021,0.988,1.027,1.011,1.034,1.007,1.018,0.995,1.039,1.003,1.024,1.014,1.030,0.991,
            1.020,0.991,1.026,1.006,1.039,0.996,1.014,1.002,1.030,1.009
        ];

        function toPairs(values, shift) {
            return values.map(function (v, i) {
                return [startMinute + shift + i * stepMinutes, v];
            });
        }

        var font = 'Liberation Sans, Arial, sans-serif';
        var axisColor = '#111';
        var lineStyle = { color: axisColor, width: 1.5 };

        var minuteTicks = [];
        var fiveMinuteTicks = [];
        for (var m = 50; m <= 124; m++) {
            minuteTicks.push(m);
            if (m % 5 === 0) fiveMinuteTicks.push(m);
        }

        function timeFormatter(baseHour, date) {
            return function (v) {
                var mins = Math.round(v);
                var h = baseHour + Math.floor(mins / 60);
                var mm = mins % 60;
                var s = h + ':' + (mm < 10 ? '0' : '') + mm;
                return mins === 60 ? s + '\n' + date : s;
            };
        }

        function tickAxis(pos, offset, ticks, len, showLine) {
            return {
                type: 'value',
                position: pos,
                offset: offset,
                min: xMin,
                max: xMax,
                axisLine: { show: showLine, onZero: false, lineStyle: lineStyle },
                axisTick: { show: true, customValues: ticks, length: len, lineStyle: lineStyle },
                axisLabel: { show: false },
                splitLine: { show: false }
            };
        }

        function labelAxis(offset, baseHour, date, margin) {
            var ax = tickAxis('bottom', offset, labelMinutes, 12, true);
            ax.axisLabel = {
                show: true,
                customValues: labelMinutes,
                margin: margin,
                fontSize: 25,
                lineHeight: 29,
                color: '#000',
                fontFamily: font,
                formatter: timeFormatter(baseHour, date)
            };
            return ax;
        }

        // bottom axis: laboratory (2022)
        var labAxis = labelAxis(0, 10, labDate, 21);
        labAxis.name = 'Date and Time [UTC]';
        labAxis.nameLocation = 'middle';
        labAxis.nameGap = 64;
        labAxis.nameMoveOverlap = false;
        labAxis.nameTextStyle = { fontSize: 25, color: '#000', fontFamily: font };

        var xAxes = [
            labAxis,
            tickAxis('bottom', 0, fiveMinuteTicks, 8, false),
            tickAxis('bottom', 0, minuteTicks, 5, false),
            // inner axis: flight (2023)
            labelAxis(-75, 20, flightDate, 19),
            tickAxis('bottom', -75, fiveMinuteTicks, 8, false),
            tickAxis('bottom', -75, minuteTicks, 5, false),
            // top frame
            tickAxis('top', 0, labelMinutes, 12, true),
            tickAxis('top', 0, fiveMinuteTicks, 8, false),
            tickAxis('top', 0, minuteTicks, 5, false),
            // dotted grid lines
            {
                type: 'value', position: 'bottom', min: xMin, max: xMax,
                axisLine: { show: false },
                axisTick: { show: false, customValues: gridMinutes },
                axisLabel: { show: false },
                splitLine: { show: true, lineStyle: { color: '#cfcfcf', width: 1, type: [2, 2] } }
            }
        ];

        var myChart = echarts.init(document.getElementById('main'));

        var option = {
            animation: false,
            backgroundColor: '#fff',
            textStyle: { fontFamily: font },
            grid: {
                left: 111,
                top: 24,
                right: 0,
                bottom: 91,
                containLabel: false,
                outerBoundsMode: 'none'
            },
            legend: {
                data: ['Aicraft during flight', 'Laboratory'],
                orient: 'vertical',
                left: 126,
                top: 37,
                icon: 'rect',
                itemWidth: 10,
                itemHeight: 10,
                itemGap: 0,
                padding: [6, 5, 3, 27],
                borderColor: '#000',
                borderWidth: 1.5,
                backgroundColor: '#fff',
                selectedMode: false,
                itemStyle: { opacity: 1 },
                textStyle: { fontSize: 25, lineHeight: 28, color: '#000', fontFamily: font, padding: [0, 0, 0, 23] }
            },
            xAxis: xAxes,
            yAxis: {
                type: 'value',
                position: 'left',
                min: 0.698,
                max: 1.544,
                name: 'CH{s|4} [a. u.]',
                nameLocation: 'middle',
                nameGap: 72,
                nameRotate: 90,
                nameTextStyle: {
                    fontSize: 25,
                    color: '#000',
                    fontFamily: font,
                    rich: { s: { fontSize: 16, verticalAlign: 'bottom', color: '#000', fontFamily: font } }
                },
                axisLine: { show: true, onZero: false, lineStyle: lineStyle },
                axisTick: { show: true, customValues: yTicks, length: 10, lineStyle: lineStyle },
                axisLabel: {
                    customValues: yTicks,
                    margin: 19,
                    fontSize: 25,
                    color: '#000',
                    fontFamily: font,
                    formatter: function (v) { return v.toFixed(1); }
                },
                splitLine: { show: false }
            },
            series: [{
                name: 'Laboratory',
                type: 'scatter',
                xAxisIndex: 0,
                symbol: 'rect',
                symbolSize: 3,
                itemStyle: { color: '#cccc00', opacity: 1 },
                silent: true,
                data: toPairs(labA, 0).concat(toPairs(labB, phaseB))
            }, {
                name: 'Aicraft during flight',
                type: 'scatter',
                xAxisIndex: 3,
                symbol: 'rect',
                symbolSize: 3,
                itemStyle: { color: '#ff0000', opacity: 1 },
                silent: true,
                data: toPairs(aircraftA, 0).concat(toPairs(aircraftB, phaseB))
            }]
        };

        myChart.setOption(option);

    </script>
</body>

</html>
